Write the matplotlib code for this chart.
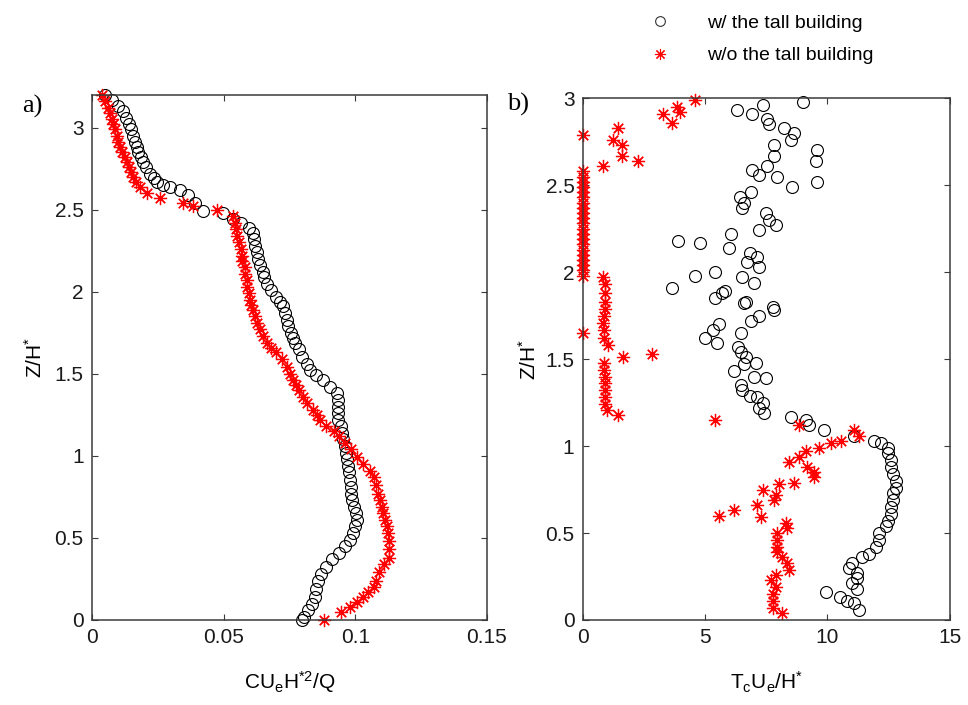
import matplotlib
matplotlib.use('Agg')
import matplotlib.pyplot as plt
from matplotlib.lines import Line2D

plt.rcParams['font.family'] = ['Liberation Sans', 'DejaVu Sans']
plt.rcParams['mathtext.fontset'] = 'custom'
plt.rcParams['mathtext.rm'] = 'Liberation Sans'
plt.rcParams['mathtext.it'] = 'Liberation Sans'

# ---------------------------------------------------------------------------
# a) normalised concentration profiles
# ---------------------------------------------------------------------------
conc_w_z = [3.20, 3.17, 3.13, 3.10, 3.06, 3.02, 2.99, 2.95, 2.91, 2.88, 2.85, 2.82,
            2.79, 2.76, 2.72, 2.69, 2.67, 2.65, 2.64, 2.62, 2.59, 2.54, 2.49, 2.48,
            2.44, 2.42, 2.39, 2.36, 2.32, 2.28, 2.24, 2.20, 2.16, 2.12, 2.09, 2.05,
            2.01, 1.97, 1.94, 1.91, 1.87, 1.83, 1.79, 1.75, 1.72, 1.69, 1.65, 1.60,
            1.56, 1.52, 1.49, 1.46, 1.42, 1.38, 1.34, 1.30, 1.26, 1.22, 1.18, 1.14,
            1.10, 1.06, 1.02, 0.98, 0.94, 0.90, 0.85, 0.81, 0.77, 0.73, 0.69, 0.65,
            0.61, 0.57, 0.53, 0.49, 0.45, 0.41, 0.37, 0.32, 0.28, 0.24, 0.19, 0.14,
            0.10, 0.06, 0.02, 0.00]
conc_w = [0.0049, 0.0075, 0.0100, 0.0118, 0.0130, 0.0140, 0.0150, 0.0157, 0.0163, 0.0170, 0.0175, 0.0185,
          0.0194, 0.0205, 0.0220, 0.0235, 0.0247, 0.0270, 0.0296, 0.0334, 0.0365, 0.0390, 0.0420, 0.0498,
          0.0535, 0.0565, 0.0595, 0.0610, 0.0615, 0.0620, 0.0625, 0.0630, 0.0640, 0.0650, 0.0655, 0.0665,
          0.0680, 0.0700, 0.0715, 0.0725, 0.0735, 0.0740, 0.0744, 0.0755, 0.0765, 0.0770, 0.0785, 0.0797,
          0.0815, 0.0830, 0.0850, 0.0877, 0.0905, 0.0930, 0.0935, 0.0935, 0.0935, 0.0935, 0.0945, 0.0950,
          0.0953, 0.0960, 0.0965, 0.0968, 0.0972, 0.0976, 0.0980, 0.0982, 0.0985, 0.0988, 0.0995, 0.1002,
          0.1006, 0.1000, 0.0990, 0.0980, 0.0960, 0.0940, 0.0910, 0.0890, 0.0870, 0.0858, 0.0852, 0.0847,
          0.0835, 0.0820, 0.0805, 0.0797]

conc_wo_z = [3.20, 3.16, 3.12, 3.09, 3.05, 3.02, 2.99, 2.95, 2.91, 2.88, 2.85, 2.82,
             2.79, 2.76, 2.73, 2.70, 2.67, 2.64, 2.60, 2.57, 2.54, 2.52, 2.50, 2.46,
             2.42, 2.38, 2.34, 2.30, 2.26, 2.22, 2.19, 2.15, 2.11, 2.07, 2.03, 1.99,
             1.95, 1.92, 1.89, 1.85, 1.81, 1.77, 1.73, 1.69, 1.66, 1.63, 1.59, 1.54,
             1.50, 1.46, 1.43, 1.40, 1.36, 1.32, 1.28, 1.25, 1.22, 1.18, 1.15, 1.12,
             1.08, 1.04, 0.99, 0.95, 0.91, 0.87, 0.82, 0.77, 0.73, 0.69, 0.65, 0.61,
             0.57, 0.53, 0.48, 0.43, 0.38, 0.34, 0.29, 0.24, 0.20, 0.17, 0.14, 0.11,
             0.08, 0.05, 0.00]
conc_wo = [0.0038, 0.0050, 0.0060, 0.0068, 0.0075, 0.0080, 0.0087, 0.0095, 0.0100, 0.0106, 0.0115, 0.0125,
           0.0133, 0.0140, 0.0148, 0.0156, 0.0168, 0.0182, 0.0209, 0.0258, 0.0346, 0.0384, 0.0475, 0.0535,
           0.0545, 0.0548, 0.0550, 0.0560, 0.0565, 0.0568, 0.0570, 0.0580, 0.0583, 0.0587, 0.0590, 0.0598,
           0.0600, 0.0605, 0.0610, 0.0618, 0.0625, 0.0638, 0.0650, 0.0665, 0.0680, 0.0700, 0.0720, 0.0740,
           0.0752, 0.0764, 0.0775, 0.0785, 0.0800, 0.0815, 0.0840, 0.0855, 0.0866, 0.0890, 0.0920, 0.0940,
           0.0960, 0.0985, 0.1006, 0.1030, 0.1056, 0.1070, 0.1078, 0.1086, 0.1095, 0.1100, 0.1105, 0.1112,
           0.1120, 0.1124, 0.1128, 0.1130, 0.1130, 0.1110, 0.1090, 0.1080, 0.1070, 0.1050, 0.1030, 0.1005,
           0.0980, 0.0945, 0.0880]

# ---------------------------------------------------------------------------
# b) normalised residence time
# ---------------------------------------------------------------------------
time_w_z = [2.98, 2.96, 2.93, 2.91, 2.88, 2.85, 2.83, 2.80, 2.76, 2.70, 2.73, 2.67,
            2.64, 2.61, 2.59, 2.56, 2.55, 2.52, 2.49, 2.46, 2.43, 2.40, 2.37, 2.34,
            2.30, 2.27, 2.24, 2.22, 2.18, 2.17, 2.14, 2.11, 2.09, 2.06, 2.03, 2.00,
            1.98, 1.97, 1.94, 1.91, 1.89, 1.88, 1.85, 1.83, 1.82, 1.80, 1.78, 1.75,
            1.72, 1.70, 1.67, 1.65, 1.62, 1.59, 1.57, 1.54, 1.51, 1.48, 1.47, 1.43,
            1.40, 1.39, 1.35, 1.32, 1.29, 1.28, 1.25, 1.22, 1.19, 1.17, 1.15, 1.12,
            1.09, 1.06,
            1.03, 1.02, 0.99, 0.96, 0.92, 0.88, 0.84, 0.80, 0.76, 0.73, 0.69, 0.65,
            0.61, 0.57, 0.54, 0.50, 0.46, 0.42, 0.38, 0.36, 0.33, 0.30, 0.27, 0.24,
            0.21, 0.18, 0.16, 0.13, 0.11, 0.10, 0.06]
time_w = [9.00, 7.35, 6.29, 6.94, 7.55, 7.63, 8.24, 8.65, 8.53, 9.59, 7.84, 7.84,
          9.55, 7.55, 6.94, 7.22, 7.96, 9.59, 8.57, 6.90, 6.41, 6.61, 6.53, 7.51,
          7.63, 7.92, 7.22, 6.08, 3.88, 4.78, 6.00, 6.82, 7.14, 6.73, 7.22, 5.39,
          4.57, 6.53, 7.02, 3.63, 5.80, 5.71, 5.39, 6.69, 6.61, 7.76, 7.84, 7.22,
          6.90, 5.59, 5.31, 6.49, 4.98, 5.47, 6.33, 6.49, 6.69, 7.10, 6.61, 6.20,
          7.02, 7.51, 6.49, 6.53, 6.82, 7.14, 7.35, 7.22, 7.43, 8.53, 9.14, 9.27,
          9.88, 11.10,
          11.90, 12.20, 12.50, 12.50, 12.60, 12.60, 12.70, 12.80, 12.80, 12.70, 12.70, 12.60,
          12.60, 12.50, 12.40, 12.10, 12.10, 12.00, 11.70, 11.40, 11.00, 10.90, 11.20, 11.20,
          11.00, 11.20, 9.96, 10.50, 10.80, 11.10, 11.30]

time_wo_z = [2.99, 2.95, 2.92, 2.91, 2.86, 2.79, 2.83, 2.76, 2.73, 2.67, 2.64, 2.61,
             2.58, 2.55, 2.52, 2.49, 2.46, 2.43, 2.40, 2.37, 2.34, 2.31, 2.28, 2.25,
             2.22, 2.19, 2.16, 2.13, 2.10, 2.07, 2.04, 2.01, 1.98, 1.65,
             1.97, 1.93, 1.88, 1.83, 1.79, 1.75, 1.71, 1.67, 1.62, 1.58, 1.51, 1.53,
             1.48, 1.44, 1.40, 1.36, 1.32, 1.28, 1.24, 1.21, 1.18, 1.15,
             1.12, 1.09, 1.06, 1.03, 1.02, 0.99, 0.97, 0.94, 0.91, 0.88, 0.85, 0.82,
             0.79, 0.78, 0.75, 0.72, 0.69, 0.66, 0.63, 0.60, 0.59, 0.56, 0.53, 0.50,
             0.46, 0.42, 0.39, 0.36, 0.33, 0.29, 0.26, 0.23, 0.19, 0.15, 0.11, 0.07,
             0.04]
time_wo = [4.57, 3.84, 3.96, 3.27, 3.63, 0.00, 1.43, 1.22, 1.59, 1.59, 2.24, 0.82,
           0.00, 0.00, 0.00, 0.00, 0.00, 0.00, 0.00, 0.00, 0.00, 0.00, 0.00, 0.00,
           0.00, 0.00, 0.00, 0.00, 0.00, 0.00, 0.00, 0.00, 0.00, 0.00,
           0.82, 0.90, 0.90, 0.92, 0.90, 0.85, 0.82, 0.85, 0.85, 1.03, 1.63, 2.82,
           0.88, 0.88, 0.90, 0.92, 0.90, 0.90, 0.90, 0.98, 1.43, 5.39,
           8.86, 11.10, 11.30, 10.57, 10.16, 9.67, 9.14, 8.86, 8.45, 9.18, 9.47, 9.47,
           8.65, 8.04, 7.35, 7.92, 7.84, 7.14, 6.20, 5.59, 7.30, 8.33, 8.37, 7.96,
           7.96, 7.96, 7.96, 8.16, 8.37, 8.45, 7.92, 7.71, 7.92, 7.76, 7.76, 7.76,
           8.16]

labels = ['w/ the tall building', 'w/o the tall building']

#==============================================================================
# styling
#==============================================================================
ticksize = 15
labelsize = 15
spine_c = '#3a3a3a'
circ = dict(marker='o', markersize=8.6, markerfacecolor='none', markeredgecolor='black',
            markeredgewidth=0.8, linestyle='none', clip_on=False)
star = dict(marker=(8, 2, 0), markersize=9.5, color='red', markeredgewidth=0.9, linestyle='none',
            clip_on=False)


def style(ax):
    ax.tick_params(direction='in', top=True, right=True, length=4, width=0.8,
                   labelsize=ticksize, colors=spine_c, labelcolor='#1a1a1a', pad=6)
    for s in ax.spines.values():
        s.set_color(spine_c)
        s.set_linewidth(1.1)


fig = plt.figure(figsize=(9.68, 7.05), dpi=100)

ax1 = fig.add_axes([0.095, 0.1206, 0.408, 0.745])
ax1.plot(conc_w, conc_w_z, **circ)
ax1.plot(conc_wo, conc_wo_z, **star)
ax1.set_xlim(0, 0.15)
ax1.set_ylim(0, 3.2)
ax1.set_xticks([0, 0.05, 0.1, 0.15])
ax1.set_xticklabels(['0', '0.05', '0.1', '0.15'])
ax1.set_yticks([0, 0.5, 1, 1.5, 2, 2.5, 3])
ax1.set_yticklabels(['0', '0.5', '1', '1.5', '2', '2.5', '3'])
ax1.set_xlabel(r'CU$_\mathrm{e}$H$^\mathrm{*2}$/Q', fontsize=labelsize, labelpad=16)
ax1.set_ylabel(r'Z/H$^\mathrm{*}$', fontsize=labelsize, labelpad=6)
style(ax1)
ax1.text(-0.177, 1.0, 'a)', transform=ax1.transAxes, fontsize=19, family='Liberation Serif',
         ha='left', va='top')

ax2 = fig.add_axes([0.602, 0.1206, 0.379, 0.740])
ax2.plot(time_w, time_w_z, **circ)
ax2.plot(time_wo, time_wo_z, **star)
ax2.set_xlim(0, 15)
ax2.set_ylim(0, 3)
ax2.set_xticks([0, 5, 10, 15])
ax2.set_xticklabels(['0', '5', '10', '15'])
ax2.set_yticks([0, 0.5, 1, 1.5, 2, 2.5, 3])
ax2.set_yticklabels(['0', '0.5', '1', '1.5', '2', '2.5', '3'])
ax2.set_xlabel(r'T$_\mathrm{c}$U$_\mathrm{e}$/H$^\mathrm{*}$', fontsize=labelsize, labelpad=16)
ax2.set_ylabel(r'Z/H$^\mathrm{*}$', fontsize=labelsize)
style(ax2)
ax2.text(-0.207, 1.01, 'b)', transform=ax2.transAxes, fontsize=19, family='Liberation Serif',
         ha='left', va='top')

handles = [Line2D([], [], marker='o', markersize=7, markerfacecolor='none', markeredgecolor='#333333',
                  markeredgewidth=0.8, linestyle='none'),
           Line2D([], [], marker=(8, 2, 0), markersize=8, color='red', markeredgewidth=0.8,
                  linestyle='none')]
fig.legend(handles, labels, loc='center left', bbox_to_anchor=(0.67, 0.944), frameon=False,
           fontsize=14, handlelength=1.2, handletextpad=1.8, labelspacing=0.75,
           borderpad=0, borderaxespad=0)

fig.savefig('out.png', dpi=100)
